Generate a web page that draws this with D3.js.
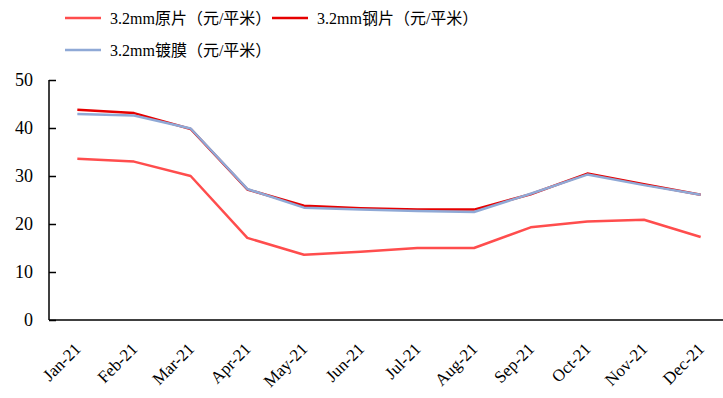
<!DOCTYPE html>
<html>
<head>
<meta charset="utf-8">
<script src="https://cdn.jsdelivr.net/npm/d3@7"></script>
<style>
    body { margin: 0; background: #fff; }
    svg text { font-family: "Liberation Serif", "Noto Sans CJK SC", serif; fill: #000; }
</style>
</head>
<body>
<svg id="chart" width="723" height="398"></svg>
<script>
// ----- data -----
const months = ["Jan-21", "Feb-21", "Mar-21", "Apr-21", "May-21", "Jun-21",
                "Jul-21", "Aug-21", "Sep-21", "Oct-21", "Nov-21", "Dec-21"];

const yuanpian = [33.6, 33.0, 30.0, 17.1, 13.6, 14.2, 15.0, 15.0, 19.3, 20.5, 20.9, 17.3];
const gangpian = [43.8, 43.1, 39.8, 27.2, 23.8, 23.3, 23.0, 23.0, 26.2, 30.5, 28.3, 26.1];
const dumo     = [42.9, 42.6, 39.9, 27.3, 23.4, 23.0, 22.7, 22.5, 26.3, 30.3, 28.1, 26.1];

const yTicks = [0, 10, 20, 30, 40, 50];

const series = [
    { name: "3.2mm原片（元/平米）", values: yuanpian, color: "#ff4d4d" },
    { name: "3.2mm钢片（元/平米）", values: gangpian, color: "#e60000" },
    { name: "3.2mm镀膜（元/平米）", values: dumo, color: "#8fa9d6" }
];

// ----- layout -----
const svg = d3.select("#chart");
const margin = { left: 49, top: 80, right: -6, bottom: 78 };
const width = 723 - margin.left - margin.right;
const height = 398 - margin.top - margin.bottom;

const g = svg.append("g").attr("transform", `translate(${margin.left},${margin.top})`);

const x = d3.scalePoint()
    .domain(months)
    .range([0, width])
    .padding(0.5);

const y = d3.scaleLinear()
    .domain([0, 50])
    .range([height, 0]);

// y axis (ticks inward)
const yAxis = g.append("g")
    .call(d3.axisLeft(y).tickValues(yTicks).tickSize(-7).tickPadding(16));
yAxis.attr("font-family", null).attr("font-size", null);
yAxis.select(".domain").attr("stroke", "#000").attr("stroke-width", 1.5)
    .attr("d", `M0,${height}V0`);
yAxis.selectAll(".tick line").attr("stroke", "#000").attr("stroke-width", 1.5);
yAxis.selectAll(".tick text")
    .style("font-size", "18px")
    .style("font-family", "'Liberation Serif', serif")
    .attr("fill", "#000");

// x axis
const xAxis = g.append("g")
    .attr("transform", `translate(0,${height})`)
    .call(d3.axisBottom(x).tickSize(0).tickPadding(0));
xAxis.attr("font-family", null).attr("font-size", null);
xAxis.select(".domain").attr("stroke", "#000").attr("stroke-width", 1.5)
    .attr("d", `M0,0H${width}`);
xAxis.selectAll(".tick text")
    .style("font-size", "17px")
    .style("font-family", "'Liberation Serif', serif")
    .attr("fill", "#000")
    .attr("text-anchor", "end")
    .attr("dy", 0)
    .attr("transform", "translate(4,30) rotate(-45)");

// lines
const line = d3.line()
    .x((d, i) => x(months[i]))
    .y(d => y(d));

const drawOrder = [series[1], series[2], series[0]];
g.append("g")
    .selectAll("path")
    .data(drawOrder)
    .enter()
    .append("path")
    .attr("d", d => line(d.values))
    .attr("fill", "none")
    .attr("stroke", d => d.color)
    .attr("stroke-width", 2.5)
    .attr("stroke-linejoin", "round");

// legend
const legendPos = [
    { x: 65, y: 18 },
    { x: 272, y: 18 },
    { x: 65, y: 50 }
];

const legend = svg.append("g")
    .selectAll("g")
    .data(series)
    .enter()
    .append("g")
    .attr("transform", (d, i) => `translate(${legendPos[i].x},${legendPos[i].y})`);

legend.append("line")
    .attr("x1", 0)
    .attr("x2", 36)
    .attr("stroke", d => d.color)
    .attr("stroke-width", 2.5);

legend.append("text")
    .attr("x", 45)
    .attr("dy", "0.35em")
    .style("font-size", "16px")
    .text(d => d.name);
</script>
</body>
</html>
